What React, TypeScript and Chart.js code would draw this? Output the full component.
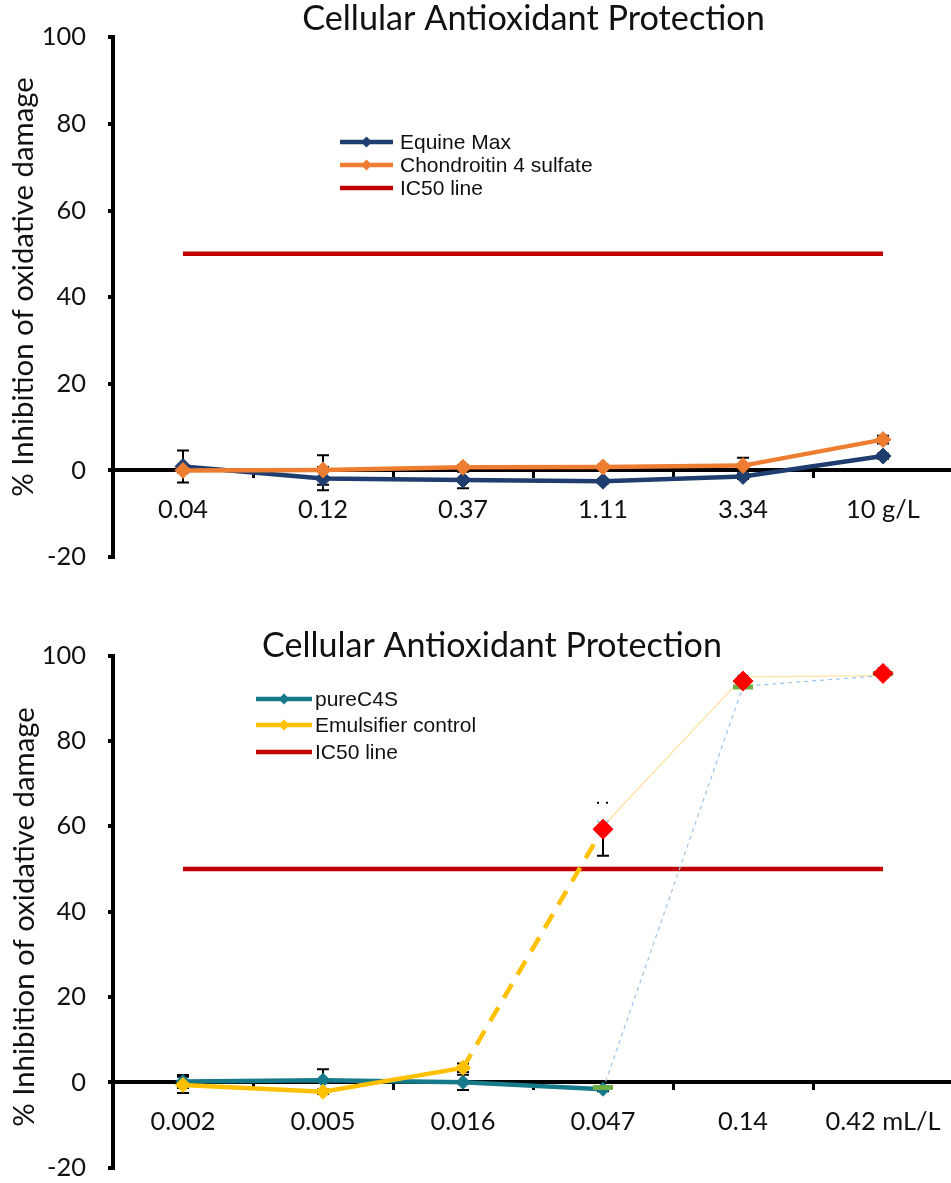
import React, { useEffect, useRef } from 'react';
import { Chart, registerables } from 'chart.js';

Chart.register(...registerables);

// ---------- data ----------
const topCategories = ['0.04', '0.12', '0.37', '1.11', '3.34', '10 g/L'];
const equineMax = [0.9, -1.9, -2.2, -2.5, -1.4, 3.3];
const equineMaxErr = [3.7, 2.7, 1.9, 0.5, 0.6, 0.6];
const chondroitin = [0, 0.1, 0.7, 0.8, 1.1, 7.1];
const chondroitinErr = [0.5, 3.4, 0.5, 0.5, 1.8, 0.9];
const ic50Top = [50, 50, 50, 50, 50, 50];

const bottomCategories = ['0.002', '0.005', '0.016', '0.047', '0.14', '0.42 mL/L'];
const pureC4S = [0.2, 0.5, 0, -1.6, null, null];
const pureC4SErr = [1.5, 2.6, 1.8, 0.5, 0, 0];
const emulsifier = [-0.6, -2.2, 3.4, null, null, null];
const emulsifierErr = [1.9, 0.5, 1.0, 0, 0, 0];
const emulsifierDashed = [null, null, 3.4, 59.5, null, null];
const emulsifierUpper = [null, null, null, 60, 95, 95.3];
const pureC4SUpper = [null, null, null, -1.6, 92.8, 95.3];
const replicateCross = [null, null, null, 60, 94.3, 96];
const replicateGreen = [null, null, null, -1.2, 92.6, 95.8];
const activeRed = [null, null, null, 59.3, 94, 95.8];
const activeRedErr = [0, 0, 0, 6.2, 1, 0.8];
const ic50Bottom = [50, 50, 50, 50, 50, 50];

const yMin = -20;
const yMax = 100;
const yStep = 20;

const chartTitle = 'Cellular Antioxidant Protection';
const yTitle = '% Inhibition of oxidative damage';

// ---------- colours ----------
const NAVY = '#1F3D6E';
const ORANGE = '#ED7D31';
const RED_LINE = '#C00000';
const TEAL = '#167A8A';
const GOLD = '#FFC000';
const LIGHT_GOLD = '#FFE3A0';
const LIGHT_BLUE = '#9DC3E6';
const GREEN = '#70AD47';
const RED = '#FF0000';
const TEXT = '#111111';

const CAL = 'Lato, "Open Sans", sans-serif';
const ARIAL = '"Liberation Sans", Arial, sans-serif';

const CANVAS_W = 953;

function fitSize(text: string, family: string, target: number): number {
  const c = document.createElement('canvas').getContext('2d')!;
  c.font = `100px ${family}`;
  const w = c.measureText(text).width;
  return (100 * target) / w;
}

const overlayPlugin = {
  id: 'overlay',
  beforeDatasetsDraw(chart: any) {
    const ctx = chart.ctx;
    const ys = chart.scales.y;
    chart.data.datasets.forEach((ds: any, i: number) => {
      if (!ds.errors) return;
      const meta = chart.getDatasetMeta(i);
      ds.data.forEach((v: number | null, j: number) => {
        const e = ds.errors[j];
        if (v === null || !e) return;
        const x = meta.data[j].x;
        const yc = ys.getPixelForValue(v);
        const y1 = ys.getPixelForValue(v + e);
        const y2 = ys.getPixelForValue(v - e);
        ctx.save();
        ctx.strokeStyle = '#000';
        ctx.fillStyle = '#000';
        ctx.lineWidth = 2;
        ctx.beginPath();
        if (ds.dottedUpper) {
          ctx.moveTo(x, yc);
          ctx.lineTo(x, y2);
          ctx.moveTo(x - 6, y2);
          ctx.lineTo(x + 6, y2);
          ctx.stroke();
          ctx.fillRect(x - 6, y1 - 1, 2, 2);
          ctx.fillRect(x + 3, y1 - 1, 2, 2);
        } else {
          ctx.moveTo(x, y1);
          ctx.lineTo(x, y2);
          ctx.moveTo(x - 6, y1);
          ctx.lineTo(x + 6, y1);
          ctx.moveTo(x - 6, y2);
          ctx.lineTo(x + 6, y2);
          ctx.stroke();
        }
        ctx.restore();
      });
    });
  },
  afterDraw(chart: any, _args: any, opts: any) {
    const ctx = chart.ctx;
    ctx.save();
    // title
    const ts = fitSize(chartTitle, CAL, opts.title.width);
    ctx.font = `${ts}px ${CAL}`;
    ctx.fillStyle = TEXT;
    ctx.textAlign = 'center';
    ctx.textBaseline = 'alphabetic';
    ctx.fillText(chartTitle, opts.title.cx, opts.title.baseline);
    // y title
    const ys = fitSize(yTitle, CAL, opts.yTitle.width);
    ctx.save();
    ctx.translate(opts.yTitle.bx, opts.yTitle.cy);
    ctx.rotate(-Math.PI / 2);
    ctx.font = `${ys}px ${CAL}`;
    ctx.fillText(yTitle, 0, 0);
    ctx.restore();
    // legend
    const lg = opts.legend;
    lg.items.forEach((it: any, k: number) => {
      const y = lg.rows[k];
      ctx.strokeStyle = it.color;
      ctx.lineWidth = 4.5;
      ctx.beginPath();
      ctx.moveTo(lg.x0, y);
      ctx.lineTo(lg.x1, y);
      ctx.stroke();
      if (it.marker) {
        const cx = (lg.x0 + lg.x1) / 2;
        const r = 5.5;
        ctx.fillStyle = it.color;
        ctx.beginPath();
        ctx.moveTo(cx, y - r);
        ctx.lineTo(cx + r, y);
        ctx.lineTo(cx, y + r);
        ctx.lineTo(cx - r, y);
        ctx.closePath();
        ctx.fill();
      }
      ctx.fillStyle = TEXT;
      ctx.font = `21px ${ARIAL}`;
      ctx.textAlign = 'left';
      ctx.textBaseline = 'middle';
      ctx.fillText(it.label, lg.tx, y + 1);
    });
    ctx.restore();
  },
};

function makeScales(tickSize: number) {
  return {
    x: {
      type: 'category',
      offset: true,
      position: { y: 0 },
      grid: {
        offset: true,
        drawOnChartArea: false,
        drawTicks: true,
        tickLength: 6,
        color: '#000',
        lineWidth: 3,
      },
      border: { display: true, color: '#000', width: 4 },
      ticks: {
        font: { family: CAL, size: tickSize },
        color: TEXT,
        padding: 18,
        maxRotation: 0,
        autoSkip: false,
      },
    },
    y: {
      min: yMin,
      max: yMax,
      ticks: {
        stepSize: yStep,
        font: { family: CAL, size: tickSize },
        color: TEXT,
        padding: 22,
      },
      grid: {
        drawOnChartArea: false,
        drawTicks: true,
        tickLength: 5,
        color: '#000',
        lineWidth: 4,
      },
      border: { display: true, color: '#000', width: 4 },
      afterFit: (s: any) => {
        s.width = 113;
      },
    },
  };
}

function lineDs(label: string, data: (number | null)[], color: string, extra: any = {}) {
  return {
    label,
    data,
    borderColor: color,
    backgroundColor: color,
    borderWidth: 4.5,
    pointStyle: 'rectRot',
    pointRadius: 8,
    pointBorderWidth: 1,
    pointBackgroundColor: color,
    pointBorderColor: color,
    tension: 0,
    spanGaps: false,
    ...extra,
  };
}

function topConfig(tickSize: number): any {
  return {
    type: 'line',
    data: {
      labels: topCategories,
      datasets: [
        lineDs('IC50 line', ic50Top, RED_LINE, { pointRadius: 0, order: 5 }),
        lineDs('Equine Max', equineMax, NAVY, { errors: equineMaxErr, order: 2 }),
        lineDs('Chondroitin 4 sulfate', chondroitin, ORANGE, { errors: chondroitinErr, order: 1 }),
      ],
    },
    options: {
      animation: false,
      responsive: false,
      maintainAspectRatio: false,
      layout: { padding: { top: 34, bottom: 38, left: 0, right: 0 } },
      plugins: {
        legend: { display: false },
        tooltip: { enabled: false },
        title: { display: false },
        overlay: {
          title: { cx: 533.5, baseline: 30, width: 463 },
          yTitle: { bx: 33, cy: 287, width: 420 },
          legend: {
            x0: 340,
            x1: 393,
            tx: 400,
            rows: [142, 165, 188],
            items: [
              { label: 'Equine Max', color: NAVY, marker: true },
              { label: 'Chondroitin 4 sulfate', color: ORANGE, marker: true },
              { label: 'IC50 line', color: RED_LINE, marker: false },
            ],
          },
        },
      },
      scales: makeScales(tickSize),
    },
    plugins: [overlayPlugin],
  };
}

function bottomConfig(tickSize: number): any {
  return {
    type: 'line',
    data: {
      labels: bottomCategories,
      datasets: [
        lineDs('IC50 line', ic50Bottom, RED_LINE, { pointRadius: 0, order: 12 }),
        lineDs('', emulsifierUpper, LIGHT_GOLD, { borderWidth: 1.2, pointRadius: 0, order: 11 }),
        lineDs('', pureC4SUpper, LIGHT_BLUE, { borderWidth: 1.2, borderDash: [4, 4], pointRadius: 0, order: 10 }),
        lineDs('', emulsifierDashed, GOLD, { borderDash: [16, 11], pointRadius: 0, order: 9 }),
        lineDs('pureC4S', pureC4S, TEAL, { errors: pureC4SErr, pointRadius: 7, order: 7 }),
        lineDs('Emulsifier control', emulsifier, GOLD, { errors: emulsifierErr, pointRadius: 7.5, order: 6 }),
        lineDs('', replicateGreen, GREEN, {
          showLine: false,
          pointStyle: 'line',
          pointRadius: 10,
          pointBorderWidth: 5,
          order: 5,
        }),
        lineDs('', replicateCross, LIGHT_BLUE, {
          showLine: false,
          pointStyle: 'crossRot',
          pointRadius: 8,
          pointBorderWidth: 2,
          order: 4,
        }),
        lineDs('', activeRed, RED, {
          showLine: false,
          errors: activeRedErr,
          dottedUpper: true,
          pointRadius: 10,
          order: 3,
        }),
      ],
    },
    options: {
      animation: false,
      responsive: false,
      maintainAspectRatio: false,
      layout: { padding: { top: 60.5, bottom: 32, left: 0, right: 0 } },
      plugins: {
        legend: { display: false },
        tooltip: { enabled: false },
        title: { display: false },
        overlay: {
          title: { cx: 492, baseline: 62, width: 460 },
          yTitle: { bx: 33.5, cy: 322, width: 420 },
          legend: {
            x0: 256,
            x1: 312,
            tx: 315,
            rows: [104, 130, 157],
            items: [
              { label: 'pureC4S', color: TEAL, marker: true },
              { label: 'Emulsifier control', color: GOLD, marker: true },
              { label: 'IC50 line', color: RED_LINE, marker: false },
            ],
          },
        },
      },
      scales: makeScales(tickSize),
    },
    plugins: [overlayPlugin],
  };
}

export default function App() {
  const ref1 = useRef<HTMLCanvasElement>(null);
  const ref2 = useRef<HTMLCanvasElement>(null);

  useEffect(() => {
    const tickSize = fitSize('0.002', CAL, 65);
    const make = (canvas: HTMLCanvasElement, cfg: any) => {
      let chart = new Chart(canvas, cfg);
      // compensate any automatic right padding so the plot reaches the page edge
      const extra = Math.round(CANVAS_W - chart.chartArea.right);
      if (extra > 0) {
        chart.destroy();
        canvas.width = CANVAS_W + extra;
        canvas.style.width = `${CANVAS_W + extra}px`;
        chart = new Chart(canvas, cfg);
      }
      return chart;
    };
    const c1 = make(ref1.current!, topConfig(tickSize));
    const c2 = make(ref2.current!, bottomConfig(tickSize));
    return () => {
      c1.destroy();
      c2.destroy();
    };
  }, []);

  return (
    <div
      style={{
        position: 'fixed',
        left: 0,
        top: 0,
        width: 951,
        height: 1183,
        overflow: 'hidden',
        background: '#fff',
      }}
    >
      <canvas
        ref={ref1}
        width={CANVAS_W}
        height={595}
        style={{ position: 'absolute', left: 0, top: 0, width: CANVAS_W, height: 595 }}
      />
      <canvas
        ref={ref2}
        width={CANVAS_W}
        height={610}
        style={{ position: 'absolute', left: 0, top: 595, width: CANVAS_W, height: 610 }}
      />
    </div>
  );
}
